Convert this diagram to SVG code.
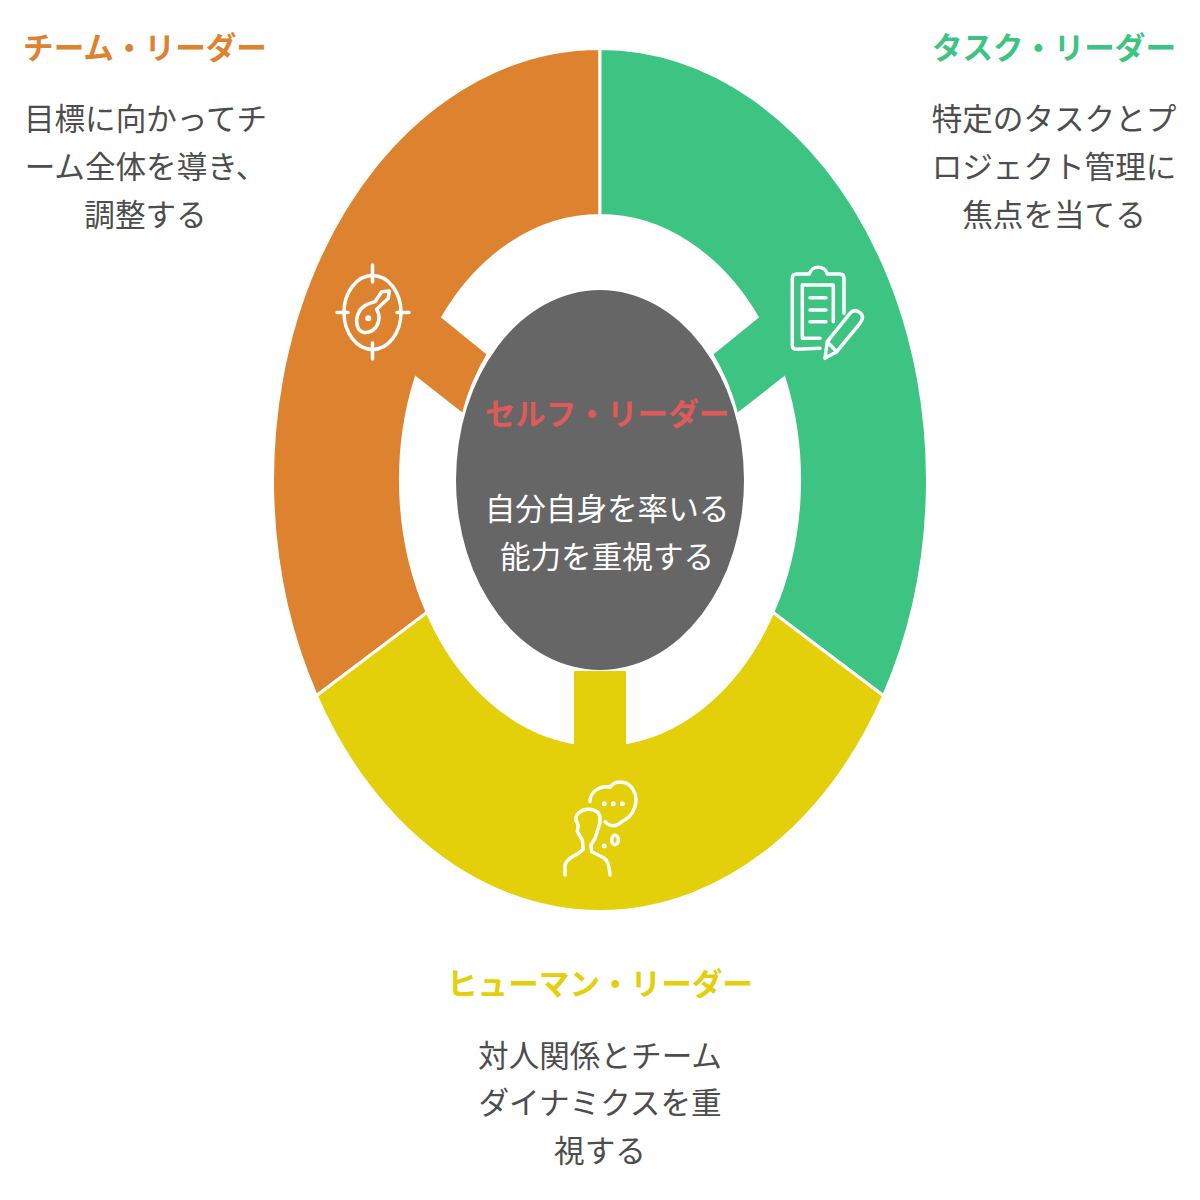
<svg xmlns="http://www.w3.org/2000/svg" width="1200" height="1200" viewBox="0 0 1200 1200">
<style>
text{font-family:"Noto Sans CJK JP","Noto Sans",sans-serif;font-size:30.6px;text-anchor:middle}
.t{font-weight:700}
.b{fill:#4d4d4d;font-weight:400}
.w{fill:#fff;font-weight:400}
.seg{stroke:#fff;stroke-width:3;stroke-linejoin:miter}
.ic{fill:none;stroke:#fff;stroke-width:3.5;stroke-linecap:round;stroke-linejoin:round}
.dot{fill:#fff}
</style>
<rect width="1200" height="1200" fill="#fff"/>
<g id="connectors"></g>
<g id="node-team">
<path class="seg" fill="#dd8330" d="M600,48.500 A327.500,431.500 0 0 0 316.400,695.750 L427.200,612.250 A199.500,264.500 0 0 1 415.900,378 L463,415 A147,194 0 0 1 488.500,354 L442.800,317 A199.500,264.500 0 0 1 600,215.500 Z"/>
<g class="ic">
<ellipse cx="372.500" cy="312.500" rx="28.500" ry="37"/>
<path d="M372.500,265V282M372.500,343V359M337,312.500H348M397,312.500H409"/>
<path d="M381.700,291.700L389.300,291L388.300,298.300L376.700,309.300C381.700,318.300 378.300,331.700 365,332.700C356.700,331.700 355,321.700 358.300,313.300C361.700,305 370,303.300 375,301.700Z"/>
</g>
<circle class="dot" cx="368.300" cy="318.300" r="3"/>
<text class="t" x="145" y="59" fill="#dd8330">チーム・リーダー</text>
<text class="b" x="145.500" y="130">目標に向かってチ</text>
<text class="b" x="145.500" y="178">ーム全体を導き、</text>
<text class="b" x="145.500" y="226">調整する</text>
</g>
<g id="node-task">
<path class="seg" fill="#3ec482" d="M600,48.500 A327.500,431.500 0 0 1 883.600,695.750 L772.800,612.250 A199.500,264.500 0 0 0 784.100,378 L737,415 A147,194 0 0 0 711.500,354 L757.200,317 A199.500,264.500 0 0 0 600,215.500 Z"/>
<g class="ic">
<path d="M820,348.300L796.700,349.300Q792.300,349.300 792.300,345L792.300,278.300Q792.300,274 796.700,274L809.300,274C811.700,265 825,265 827.300,274L840,274Q844,274 844,278.300L844,313.300"/>
<path d="M820,338.300L802.300,338.300L802.300,285L833.300,285L833.300,321.700"/>
<path d="M810,297.700H826M810,310H826M810,321.700H826"/>
<path d="M825,358.300L827.300,341.700L850,313.300Q855,308.300 860,312.700Q865,316.700 860,323.300L836.700,351.700Z"/>
<path d="M827.300,341.700L836.700,351.700"/>
</g>
<text class="t" x="1054" y="59" fill="#3ec482">タスク・リーダー</text>
<text class="b" x="1054" y="130">特定のタスクとプ</text>
<text class="b" x="1054" y="178">ロジェクト管理に</text>
<text class="b" x="1054" y="226">焦点を当てる</text>
</g>
<g id="node-human">
<path class="seg" fill="#e3cf0a" d="M316.400,695.750 A327.500,431.500 0 0 0 883.600,695.750 L772.800,612.250 A199.500,264.500 0 0 1 627.500,742.500 L627.500,669.500 L572.500,669.500 L572.500,742.500 A199.500,264.500 0 0 1 427.200,612.250 Z"/>
<g class="ic">
<path d="M590,801.700C590,791.700 600,785 610,787.300C615,780 628.300,780 633.300,790C640,801.700 633.300,816.700 621.700,821.700C616.700,826.700 610,827.300 605,821.700"/>
<ellipse cx="615" cy="840" rx="3.300" ry="4.700"/>
<path d="M565,875L565,865Q566.500,859 578.300,853.300L583.300,849.300L582.300,840L577.300,831.700L578.300,825L575.700,820Q576,815 578.300,813.300Q583,809 588.300,809.300Q594,809 598.300,812.700Q600.500,816 600,820Q600,824 598.300,828.300L595,838.300L591,845L591.700,851.700L604,858Q609,861 610,875"/>
</g>
<circle class="dot" cx="604.300" cy="803.700" r="2.500"/><circle class="dot" cx="613.300" cy="803.700" r="2.500"/><circle class="dot" cx="622.300" cy="803.700" r="2.500"/><circle class="dot" cx="604.300" cy="846" r="2.500"/>
<text class="t" x="600" y="995" fill="#e3cf0a">ヒューマン・リーダー</text>
<text class="b" x="600" y="1067">対人関係とチーム</text>
<text class="b" x="600" y="1114">ダイナミクスを重</text>
<text class="b" x="600" y="1162">視する</text>
</g>
<g id="node-self">
<ellipse cx="600" cy="480" rx="144" ry="190" fill="#666"/>
<text class="t" x="607" y="425" fill="#e05a5a">セルフ・リーダー</text>
<text class="w" x="607" y="520">自分自身を率いる</text>
<text class="w" x="607" y="568">能力を重視する</text>
</g>
</svg>
